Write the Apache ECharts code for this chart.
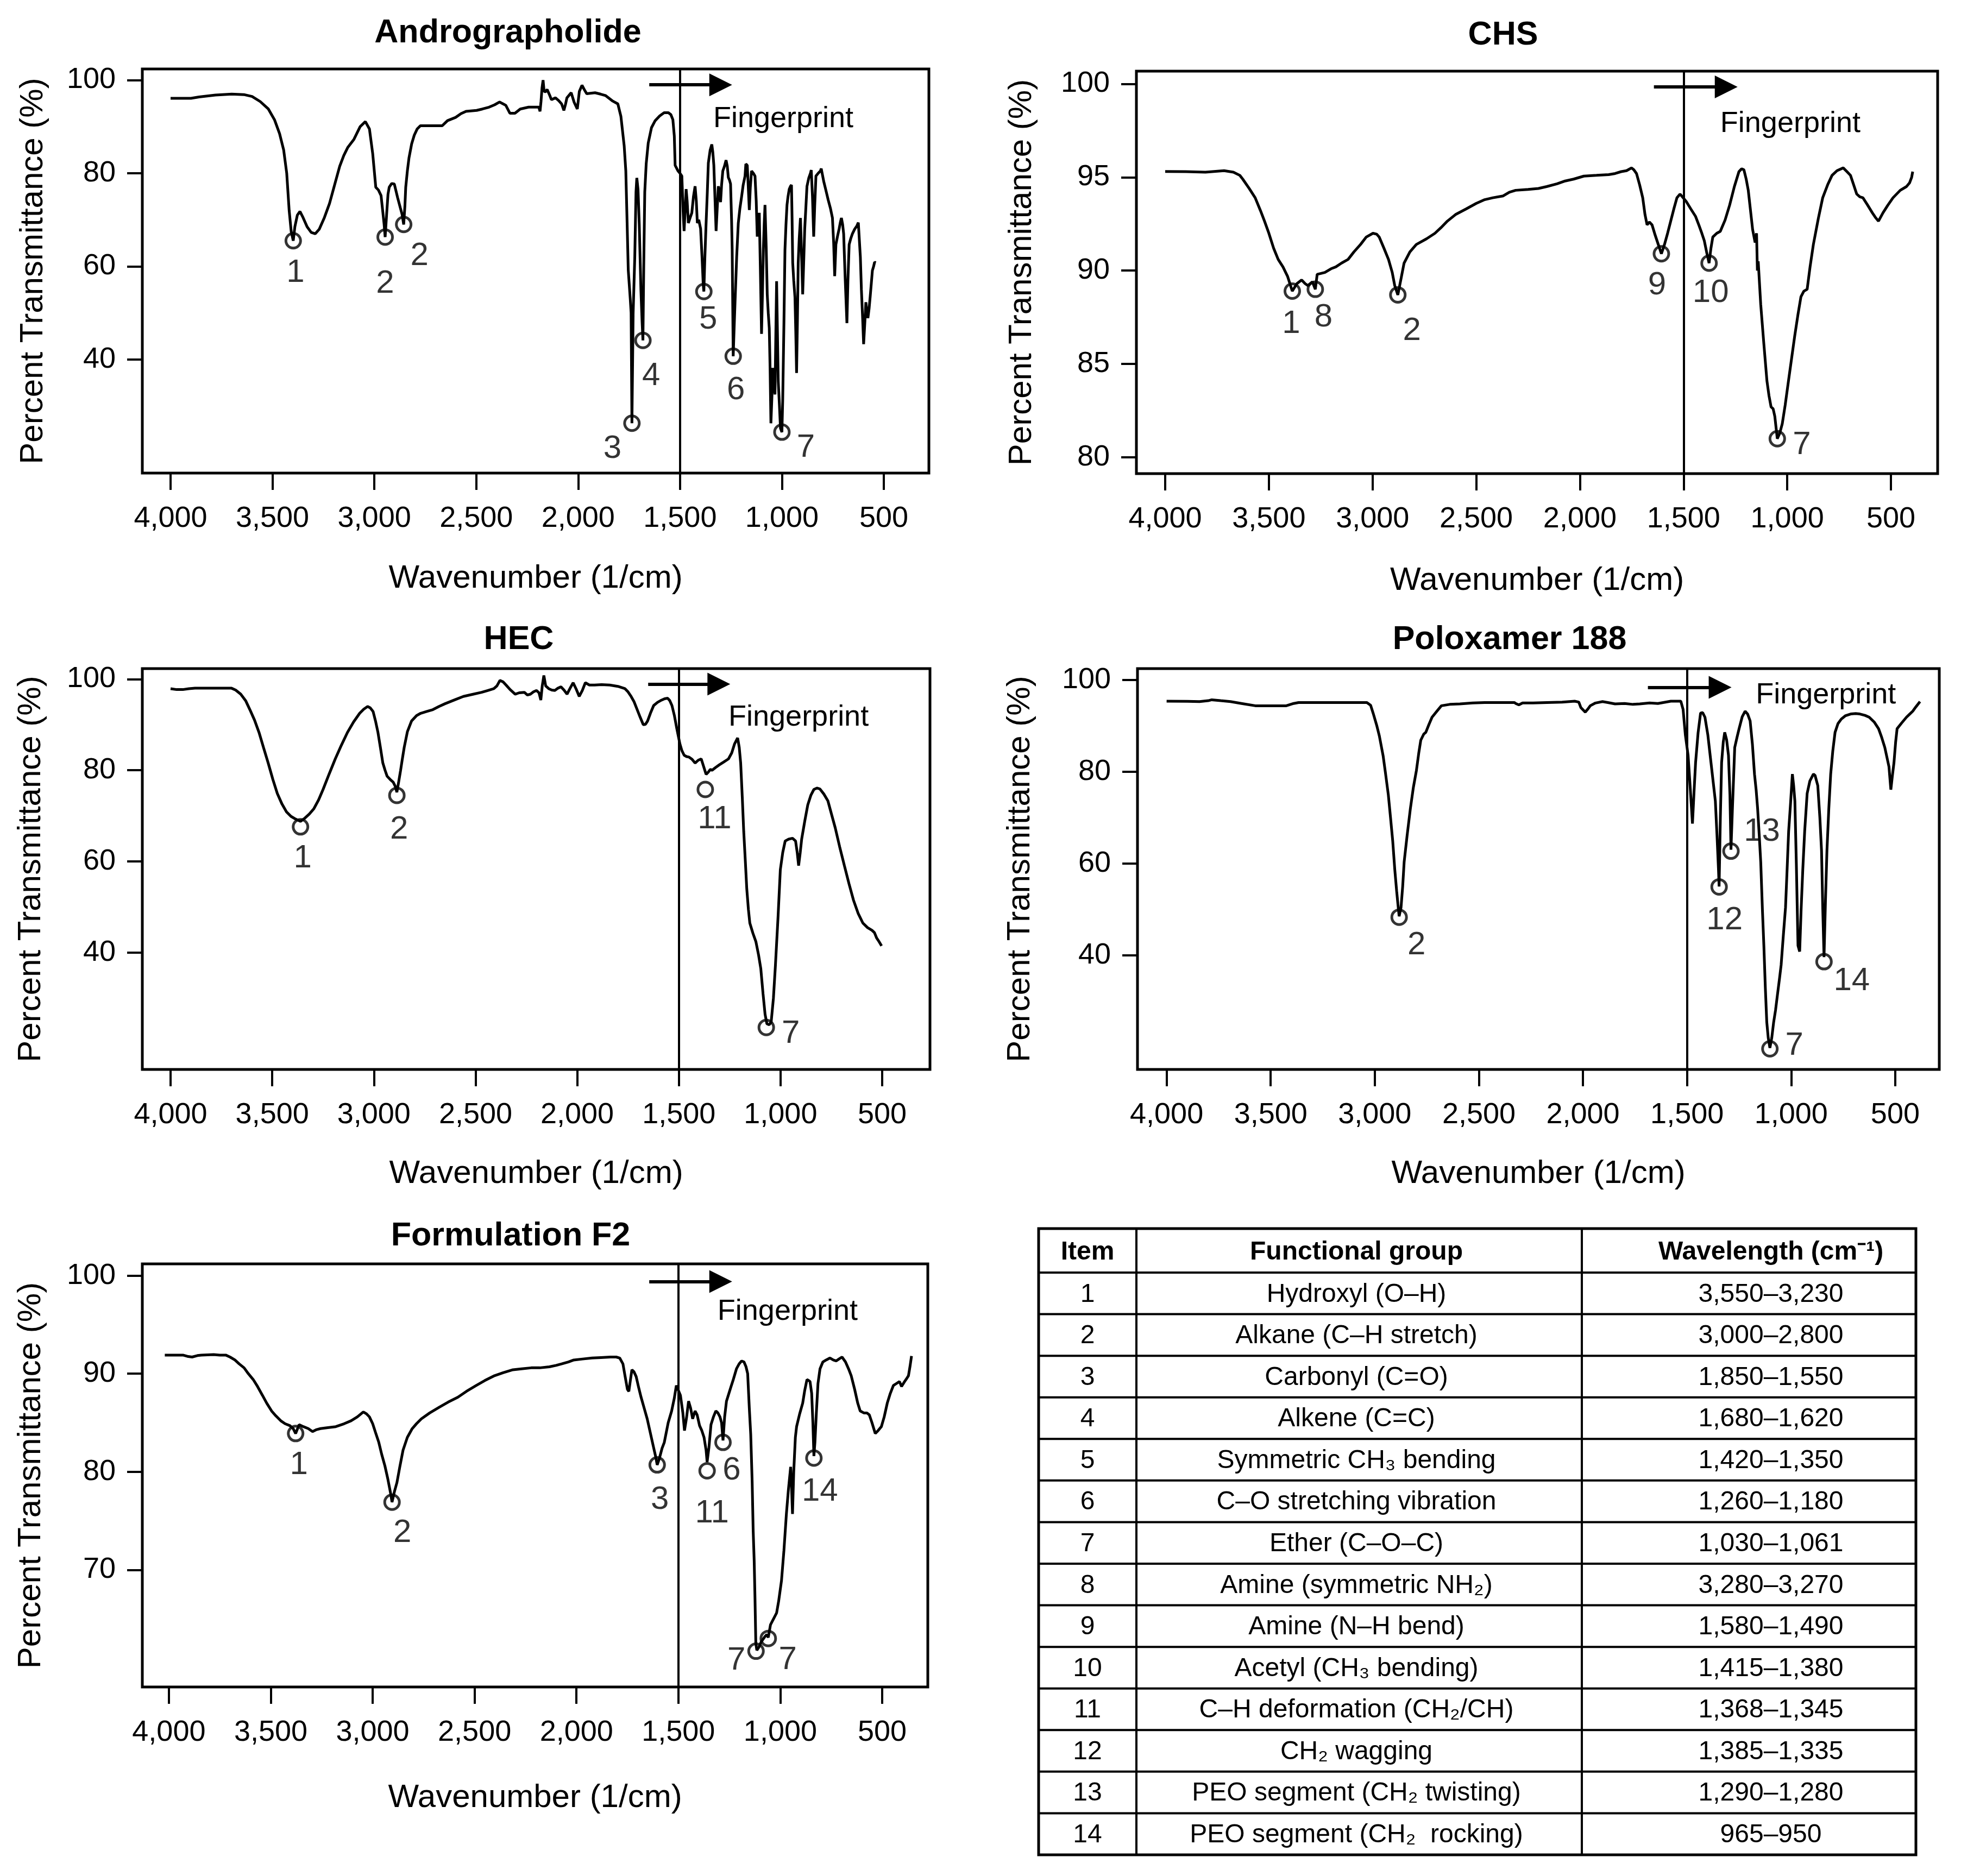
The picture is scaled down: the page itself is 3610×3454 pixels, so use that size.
<!DOCTYPE html>
<html><head><meta charset="utf-8">
<script src="https://cdn.jsdelivr.net/npm/echarts@6/dist/echarts.min.js"></script>
<style>html,body{margin:0;padding:0;background:#fff}#c{width:3610px;height:3454px}</style>
</head><body><div id="c"></div>
<script>
// ---------------- DATA (wavenumber 1/cm, transmittance %) ----------------
const andrographolide = [[4000,96.1],[3900,96.1],[3860,96.4],[3780,96.8],[3700,97.0],[3640,96.9],[3600,96.5],[3560,95.4],[3520,93.8],[3490,91.5],[3465,88.5],[3445,85.0],[3430,80.0],[3418,72.0],[3408,67.5],[3398,65.5],[3390,68.5],[3378,71.0],[3365,71.8],[3350,70.5],[3330,68.5],[3310,67.3],[3290,67.0],[3270,68.0],[3245,70.5],[3220,73.5],[3195,77.5],[3170,81.5],[3150,83.8],[3131,85.5],[3100,87.3],[3070,90.0],[3044,91.1],[3024,89.5],[3008,84.2],[2993,77.0],[2980,76.4],[2967,75.2],[2958,71.5],[2952,69.0],[2947,66.3],[2940,71.0],[2933,75.5],[2927,77.0],[2915,77.8],[2902,77.7],[2886,74.8],[2872,72.5],[2864,71.2],[2856,69.0],[2850,73.0],[2846,77.0],[2838,80.5],[2830,83.3],[2817,86.3],[2804,88.2],[2790,89.5],[2774,90.2],[2720,90.2],[2667,90.2],[2641,91.3],[2601,92.0],[2575,92.8],[2550,93.3],[2498,93.5],[2470,93.8],[2437,94.2],[2410,94.7],[2386,95.3],[2372,95.0],[2355,94.6],[2335,92.9],[2310,92.9],[2284,93.8],[2243,94.2],[2193,94.2],[2187,93.3],[2182,95.5],[2177,98.4],[2172,100.0],[2167,97.6],[2160,97.5],[2152,98.0],[2140,96.8],[2131,95.8],[2111,96.2],[2095,95.6],[2081,94.9],[2070,93.5],[2062,94.8],[2055,96.2],[2034,97.3],[2020,95.3],[2004,93.8],[1994,97.6],[1981,98.9],[1970,98.0],[1958,97.1],[1917,97.3],[1890,97.0],[1866,96.7],[1830,95.5],[1805,94.9],[1790,92.2],[1774,85.9],[1766,80.5],[1760,70.0],[1754,59.2],[1744,52.9],[1740,50.0],[1736,26.3],[1730,50.0],[1722,62.0],[1716,76.0],[1712,79.0],[1706,76.5],[1700,69.0],[1692,55.0],[1686,48.0],[1682,44.1],[1678,60.0],[1673,76.0],[1666,82.0],[1656,86.5],[1640,89.8],[1622,91.3],[1600,92.3],[1578,93.0],[1557,93.0],[1545,92.6],[1535,91.5],[1528,88.0],[1524,81.7],[1510,80.5],[1500,80.0],[1491,79.4],[1485,72.0],[1480,67.6],[1475,72.0],[1470,76.6],[1465,74.0],[1459,69.3],[1450,70.5],[1442,71.5],[1434,75.0],[1426,77.2],[1420,74.0],[1415,69.3],[1408,70.0],[1399,68.1],[1392,62.0],[1386,56.0],[1383,54.6],[1378,62.0],[1372,69.3],[1366,76.0],[1361,82.2],[1352,85.0],[1344,86.2],[1339,84.5],[1334,81.7],[1328,74.0],[1323,67.6],[1318,72.0],[1312,77.2],[1306,76.0],[1301,73.8],[1296,77.5],[1290,80.5],[1282,81.5],[1274,82.8],[1268,81.5],[1263,79.1],[1257,78.5],[1252,77.7],[1247,70.0],[1244,63.6],[1241,50.0],[1239,40.7],[1235,46.0],[1230,52.3],[1222,62.0],[1214,69.3],[1206,72.5],[1198,74.9],[1190,77.5],[1181,79.4],[1177,82.0],[1170,81.7],[1165,77.0],[1160,72.1],[1155,77.0],[1149,80.5],[1140,80.0],[1132,79.4],[1126,74.0],[1121,66.4],[1116,69.0],[1111,71.5],[1106,60.0],[1100,45.5],[1095,55.0],[1091,63.6],[1087,69.0],[1083,73.2],[1077,64.0],[1072,54.0],[1067,50.0],[1062,46.7],[1058,38.0],[1054,26.3],[1049,32.0],[1045,38.2],[1040,35.0],[1034,32.5],[1030,45.0],[1026,56.8],[1022,46.0],[1018,35.3],[1012,30.0],[1007,25.2],[1000,24.4],[996,31.4],[990,48.0],[985,63.6],[980,69.0],[975,73.2],[970,75.0],[964,76.6],[958,77.2],[953,77.5],[950,70.0],[947,60.8],[942,57.0],[936,53.4],[932,46.0],[928,37.1],[924,48.0],[920,60.8],[915,66.0],[909,70.4],[904,63.0],[898,54.0],[893,61.0],[888,68.1],[882,73.0],[877,77.2],[868,79.0],[860,80.0],[856,80.7],[850,75.0],[844,66.4],[839,73.0],[833,79.4],[822,80.0],[811,80.5],[807,81.0],[795,78.3],[785,76.5],[773,74.3],[762,72.5],[752,70.4],[746,65.0],[741,57.9],[735,64.7],[727,66.5],[719,68.1],[713,69.5],[708,70.4],[702,69.0],[697,67.0],[690,58.0],[681,47.8],[676,57.0],[670,64.7],[662,66.0],[654,67.0],[643,68.0],[632,68.7],[625,69.4],[621,69.3],[615,62.0],[610,55.1],[604,49.0],[599,43.3],[593,48.0],[588,52.3],[583,50.5],[578,48.9],[572,51.0],[567,53.4],[561,56.5],[556,59.1],[550,60.0],[545,60.9],[539,60.8]];

const chs = [[4000,95.31],[3900,95.3],[3806,95.27],[3716,95.35],[3671,95.27],[3640,95.1],[3626,94.9],[3595,94.4],[3566,93.9],[3540,93.2],[3521,92.65],[3500,92.0],[3477,91.2],[3455,90.6],[3432,90.2],[3410,89.7],[3387,88.9],[3365,89.3],[3342,89.5],[3325,89.3],[3312,89.2],[3290,89.4],[3276,89.0],[3267,89.8],[3230,89.9],[3200,90.1],[3177,90.2],[3150,90.4],[3118,90.6],[3090,91.0],[3058,91.4],[3030,91.8],[2998,92.0],[2980,91.95],[2968,91.8],[2945,91.2],[2923,90.6],[2905,89.9],[2893,89.2],[2878,88.7],[2862,89.6],[2848,90.4],[2820,91.0],[2789,91.4],[2740,91.7],[2699,92.0],[2670,92.3],[2639,92.65],[2600,93.0],[2549,93.3],[2500,93.6],[2459,93.8],[2420,93.9],[2370,94.0],[2340,94.2],[2310,94.3],[2250,94.35],[2200,94.4],[2160,94.5],[2110,94.65],[2071,94.8],[2030,94.9],[1981,95.06],[1920,95.1],[1861,95.14],[1830,95.2],[1801,95.3],[1775,95.35],[1751,95.5],[1740,95.4],[1727,95.2],[1712,94.6],[1697,93.9],[1686,93.0],[1676,92.45],[1665,92.6],[1652,92.45],[1637,91.9],[1622,91.4],[1607,90.9],[1592,91.4],[1577,92.0],[1562,92.65],[1547,93.3],[1532,93.9],[1517,94.1],[1502,93.9],[1487,93.7],[1465,93.3],[1442,92.9],[1425,92.4],[1412,92.0],[1400,91.6],[1389,91.0],[1377,90.4],[1368,91.2],[1359,91.8],[1340,92.0],[1323,92.1],[1300,92.7],[1278,93.5],[1255,94.5],[1233,95.3],[1220,95.45],[1209,95.4],[1198,94.9],[1188,94.3],[1178,93.3],[1167,92.2],[1155,91.5],[1148,92.0],[1144,90.0],[1140,90.5],[1128,88.2],[1113,86.1],[1098,84.1],[1088,83.3],[1078,82.7],[1068,82.6],[1060,82.2],[1048,81.0],[1036,81.3],[1024,81.8],[1010,82.8],[994,84.1],[979,85.3],[964,86.5],[949,87.6],[934,88.6],[920,88.9],[904,89.0],[890,90.2],[874,91.4],[850,92.8],[829,93.9],[805,94.6],[784,95.1],[760,95.35],[730,95.5],[712,95.3],[695,95.1],[680,94.6],[665,94.1],[650,93.95],[635,93.9],[612,93.5],[590,93.1],[575,92.85],[560,92.65],[538,93.1],[515,93.5],[490,93.9],[455,94.3],[425,94.5],[410,94.7],[400,95.0],[395,95.3]];

const hec = [[4000,97.9],[3970,97.7],[3940,97.7],[3910,97.9],[3880,98.0],[3800,98.0],[3700,98.0],[3680,97.6],[3655,96.7],[3630,95.2],[3610,93.3],[3587,91.0],[3565,88.3],[3543,85.0],[3520,81.6],[3497,78.0],[3475,74.9],[3452,72.6],[3430,70.9],[3408,69.9],[3385,69.3],[3361,68.8],[3340,69.5],[3318,70.4],[3295,71.6],[3272,73.5],[3250,75.8],[3220,79.2],[3190,82.5],[3160,85.5],[3130,88.3],[3100,90.6],[3070,92.5],[3050,93.4],[3031,94.0],[3018,93.7],[3004,92.9],[2992,90.8],[2980,88.3],[2968,85.0],[2956,81.6],[2945,80.0],[2935,78.7],[2920,78.0],[2905,77.4],[2895,76.5],[2887,75.2],[2878,77.5],[2869,79.9],[2860,82.5],[2851,85.0],[2835,88.5],[2815,90.8],[2790,92.0],[2770,92.5],[2740,92.9],[2710,93.3],[2680,94.0],[2650,94.6],[2600,95.5],[2560,96.2],[2510,96.7],[2470,97.1],[2440,97.5],[2410,97.9],[2395,98.5],[2380,99.7],[2365,99.4],[2350,98.7],[2330,97.7],[2305,96.7],[2285,97.0],[2260,97.1],[2245,96.5],[2230,96.7],[2215,97.2],[2200,97.5],[2188,97.0],[2179,95.4],[2172,98.5],[2164,100.8],[2155,98.5],[2140,97.9],[2125,97.6],[2110,97.5],[2095,98.0],[2080,98.3],[2065,97.6],[2050,96.7],[2035,98.0],[2020,99.2],[2005,97.8],[1990,96.2],[1975,97.5],[1960,99.2],[1940,98.7],[1915,98.7],[1880,98.8],[1840,98.7],[1800,98.4],[1765,97.9],[1750,97.2],[1735,96.2],[1720,95.0],[1705,93.3],[1690,91.6],[1675,90.0],[1664,90.1],[1654,90.8],[1640,92.5],[1624,94.2],[1605,94.9],[1585,95.4],[1570,95.7],[1555,95.8],[1545,95.3],[1534,94.2],[1522,92.0],[1510,89.1],[1495,85.8],[1485,84.3],[1474,83.3],[1462,83.0],[1450,82.9],[1435,82.4],[1420,81.6],[1405,82.2],[1390,82.5],[1378,80.8],[1366,79.1],[1355,79.6],[1345,80.2],[1337,80.0],[1320,80.6],[1301,81.2],[1280,81.8],[1256,82.5],[1240,83.8],[1226,85.8],[1211,87.1],[1203,85.0],[1196,81.6],[1188,74.0],[1181,66.6],[1173,60.0],[1166,54.0],[1158,49.5],[1151,46.5],[1136,44.3],[1121,42.4],[1108,39.5],[1097,36.5],[1086,31.0],[1076,26.5],[1067,24.4],[1056,24.2],[1046,24.8],[1035,30.0],[1025,37.3],[1012,48.0],[1001,58.2],[989,62.0],[977,64.5],[960,64.9],[941,65.1],[926,64.5],[918,62.0],[911,59.1],[903,62.0],[896,64.9],[881,68.8],[866,72.4],[851,74.5],[836,75.8],[821,76.1],[806,75.9],[787,74.8],[767,73.3],[750,70.5],[731,67.4],[709,63.2],[686,59.1],[663,55.1],[641,51.5],[618,48.6],[595,46.5],[572,45.5],[550,44.9],[538,44.4],[527,43.2],[515,42.4],[503,41.5]];

const poloxamer188 = [[4000,95.4],[3900,95.35],[3842,95.3],[3800,95.5],[3783,95.7],[3740,95.5],[3693,95.3],[3640,94.9],[3574,94.4],[3500,94.4],[3425,94.4],[3390,94.9],[3366,95.1],[3300,95.1],[3187,95.1],[3100,95.1],[3038,95.1],[3020,94.5],[3008,92.8],[2990,90.0],[2978,87.8],[2960,83.5],[2948,79.5],[2935,75.0],[2925,70.3],[2914,65.0],[2904,58.7],[2895,54.0],[2889,51.2],[2883,48.5],[2874,50.4],[2866,55.0],[2859,60.3],[2845,66.0],[2829,72.0],[2815,76.5],[2800,80.3],[2789,84.0],[2779,86.9],[2765,88.2],[2755,88.6],[2740,90.3],[2725,91.9],[2700,93.3],[2680,94.4],[2640,94.7],[2591,94.8],[2530,95.0],[2472,95.1],[2400,95.1],[2330,95.1],[2323,94.9],[2308,94.6],[2290,95.0],[2240,95.0],[2174,95.1],[2100,95.2],[2040,95.4],[2020,95.2],[2010,94.0],[1995,93.3],[1989,93.0],[1978,93.6],[1965,94.4],[1940,95.0],[1906,95.3],[1880,95.1],[1846,94.8],[1800,94.9],[1760,94.7],[1727,94.8],[1680,95.0],[1640,94.9],[1578,95.4],[1545,95.4],[1530,95.4],[1519,93.6],[1508,88.0],[1495,83.6],[1484,76.0],[1474,68.7],[1466,76.0],[1459,82.0],[1447,88.5],[1435,92.8],[1425,92.9],[1414,91.9],[1400,88.0],[1385,82.0],[1375,78.0],[1364,73.6],[1356,66.0],[1349,58.7],[1346,55.0],[1340,70.0],[1334,82.0],[1326,86.5],[1319,88.6],[1310,87.0],[1301,83.6],[1294,75.0],[1289,63.0],[1282,72.0],[1271,85.3],[1260,87.5],[1250,89.4],[1235,92.0],[1221,93.2],[1209,92.6],[1197,91.1],[1186,86.0],[1176,79.5],[1168,76.0],[1161,72.0],[1153,66.0],[1146,60.3],[1138,50.0],[1131,42.1],[1124,33.0],[1117,25.4],[1110,22.0],[1102,19.8],[1093,22.0],[1084,25.4],[1075,28.0],[1066,31.3],[1057,34.5],[1048,37.9],[1038,44.0],[1027,50.4],[1020,58.0],[1012,67.0],[1003,73.0],[994,79.5],[988,77.0],[982,73.6],[975,60.0],[967,42.1],[959,40.8],[952,50.0],[944,58.7],[935,67.0],[923,75.3],[910,78.0],[893,79.5],[885,79.2],[872,77.0],[862,70.0],[854,62.8],[848,50.0],[842,39.6],[835,52.0],[828,62.8],[819,72.0],[810,79.5],[800,84.5],[789,88.6],[775,90.5],[759,91.5],[740,92.2],[714,92.6],[690,92.7],[670,92.6],[645,92.3],[625,91.9],[600,90.8],[580,89.4],[565,87.5],[550,85.3],[540,83.2],[530,81.1],[521,76.1],[514,79.0],[506,82.0],[498,86.5],[491,89.4],[470,90.6],[446,91.9],[430,92.6],[416,93.2],[400,94.2],[381,95.3]];

const formulationF2 = [[4020,91.9],[3980,91.9],[3931,91.9],[3905,91.75],[3886,91.7],[3860,91.85],[3841,91.9],[3780,91.95],[3750,91.9],[3721,91.9],[3700,91.7],[3676,91.4],[3655,91.0],[3631,90.6],[3610,90.0],[3586,89.4],[3565,88.7],[3541,87.8],[3520,87.0],[3496,86.2],[3475,85.7],[3451,85.2],[3430,84.9],[3406,84.7],[3390,84.4],[3378,83.9],[3361,84.8],[3340,84.6],[3316,84.4],[3295,84.1],[3275,84.3],[3256,84.4],[3220,84.5],[3181,84.6],[3140,84.9],[3106,85.2],[3075,85.6],[3046,86.1],[3030,85.9],[3016,85.6],[3000,84.9],[2986,84.0],[2970,83.0],[2956,81.8],[2940,80.6],[2926,79.3],[2912,77.8],[2905,76.9],[2893,78.0],[2881,78.9],[2866,80.6],[2851,82.2],[2830,83.5],[2806,84.4],[2785,84.9],[2761,85.4],[2720,86.0],[2672,86.6],[2630,87.1],[2582,87.6],[2540,88.2],[2492,88.8],[2450,89.3],[2402,89.8],[2360,90.1],[2312,90.4],[2270,90.5],[2222,90.6],[2180,90.6],[2133,90.7],[2100,90.85],[2073,91.0],[2040,91.2],[2013,91.4],[1970,91.5],[1923,91.6],[1880,91.65],[1833,91.7],[1805,91.7],[1788,91.6],[1772,91.0],[1762,89.8],[1750,88.4],[1743,88.2],[1735,89.4],[1728,90.4],[1718,90.2],[1707,89.7],[1695,88.6],[1683,87.6],[1668,86.5],[1653,85.4],[1638,84.0],[1623,82.6],[1611,81.5],[1604,80.7],[1594,81.3],[1580,82.4],[1569,83.0],[1550,85.0],[1533,86.2],[1520,87.5],[1510,88.8],[1500,88.3],[1490,87.8],[1478,86.0],[1470,84.2],[1460,85.5],[1450,87.2],[1440,86.5],[1430,85.4],[1418,86.2],[1408,85.8],[1396,84.7],[1385,84.2],[1374,83.5],[1364,82.2],[1359,81.0],[1350,82.5],[1340,84.8],[1328,85.6],[1316,86.2],[1306,86.0],[1296,85.6],[1288,85.0],[1281,83.2],[1273,85.6],[1264,87.2],[1255,87.8],[1243,88.6],[1232,89.3],[1215,90.5],[1202,91.0],[1190,91.3],[1178,91.2],[1168,90.7],[1160,90.0],[1152,86.5],[1145,83.8],[1138,79.0],[1133,74.0],[1128,70.9],[1124,67.0],[1120,62.5],[1115,61.8],[1105,62.1],[1095,62.6],[1085,62.9],[1075,63.2],[1066,63.4],[1059,63.1],[1048,64.4],[1038,64.8],[1028,65.2],[1018,65.6],[1008,66.8],[994,68.9],[982,72.0],[970,75.7],[960,78.2],[949,80.5],[944,78.0],[940,75.7],[934,80.0],[926,83.5],[920,84.6],[905,85.9],[890,87.0],[880,88.3],[869,89.4],[860,89.3],[854,89.2],[846,88.0],[840,85.0],[835,81.6],[830,83.0],[823,86.0],[815,89.0],[805,90.5],[791,91.2],[775,91.4],[756,91.6],[740,91.4],[726,91.3],[712,91.5],[697,91.7],[680,91.2],[665,90.5],[652,89.8],[635,88.4],[620,87.0],[608,86.2],[590,86.0],[575,86.0],[563,85.8],[550,85.0],[534,83.9],[520,84.2],[504,84.6],[490,85.6],[475,87.0],[460,88.0],[445,88.8],[430,89.0],[415,89.2],[405,88.7],[400,88.6],[390,89.2],[380,89.5],[371,89.8],[363,90.8],[356,91.8]];

// marked peaks: [wavenumber, transmittance, item number]
const andrographolidePeaks = [[3398,65.5,'1'],[2947,66.3,'2'],[2856,69.0,'2'],[1736,26.3,'3'],[1682,44.1,'4'],[1383,54.6,'5'],[1239,40.7,'6'],[1000,24.4,'7']];
const chsPeaks = [[3387,88.9,'1'],[3276,89.0,'8'],[2878,88.7,'2'],[1607,90.9,'9'],[1377,90.4,'10'],[1048,81.0,'7']];
const hecPeaks = [[3361,67.6,'1'],[2887,74.5,'2'],[1370,75.8,'11'],[1070,23.6,'7']];
const poloxamer188Peaks = [[2883,48.3,'2'],[1346,54.9,'12'],[1289,62.7,'13'],[1102,19.6,'7'],[842,38.6,'14']];
const formulationF2Peaks = [[3378,83.9,'1'],[2905,76.9,'2'],[1604,80.7,'3'],[1359,80.1,'11'],[1281,83.0,'6'],[1119,61.7,'7'],[1059,63.0,'7'],[835,81.4,'14']];

// tick labels
const xTickValues = [4000,3500,3000,2500,2000,1500,1000,500];
const yTicksWide = [40,60,80,100];
const yTicksCHS = [80,85,90,95,100];
const yTicksF2 = [70,80,90,100];
const fingerprintBoundary = 1500;

// table
const tableHeader = ['Item','Functional group','Wavelength (cm\u207B\u00B9)'];
const tableItems = ['1','2','3','4','5','6','7','8','9','10','11','12','13','14'];
const tableGroups = ['Hydroxyl (O\u2013H)','Alkane (C\u2013H stretch)','Carbonyl (C=O)','Alkene (C=C)','Symmetric CH\u2083 bending','C\u2013O stretching vibration','Ether (C\u2013O\u2013C)','Amine (symmetric NH\u2082)','Amine (N\u2013H bend)','Acetyl (CH\u2083 bending)','C\u2013H deformation (CH\u2082/CH)','CH\u2082 wagging','PEO segment (CH\u2082 twisting)','PEO segment (CH\u2082  rocking)'];
const tableWavelengths = ['3,550\u20133,230','3,000\u20132,800','1,850\u20131,550','1,680\u20131,620','1,420\u20131,350','1,260\u20131,180','1,030\u20131,061','3,280\u20133,270','1,580\u20131,490','1,415\u20131,380','1,368\u20131,345','1,385\u20131,335','1,290\u20131,280','965\u2013950'];

// ---------------- LAYOUT / STYLE ----------------
function fontAvailable(name){
  const c=document.createElement('canvas').getContext('2d');
  const s='4,000 Wavenumber 1234567890 Hydroxyl';
  let diff=false;
  ['monospace','serif'].forEach(b=>{
    c.font='80px '+b; const a=c.measureText(s).width;
    c.font='80px "'+name+'", '+b; const w=c.measureText(s).width;
    if (Math.abs(a-w)>0.5) diff=true;
  });
  return diff;
}
const SANS = '"Liberation Sans", Arial, Helvetica, sans-serif';
const HAS_NARROW = fontAvailable('Liberation Sans Narrow');
const NUM_FONT = HAS_NARROW ? '"Liberation Sans Narrow", "Liberation Sans", Arial, sans-serif' : SANS;
const TICK_SIZE = HAS_NARROW ? 60 : 54;
const PEAK_SIZE = HAS_NARROW ? 64 : 60;
const BODY_SIZE = HAS_NARROW ? 56 : 48;

const panels = [
  {title:'Andrographolide', titlePos:[935,61], data:andrographolide, peaks:andrographolidePeaks,
   labelOffsets:[[4,59],[0,86],[29,58],[-36,47],[15,66],[8,52],[5,63],[44,29]],
   grid:{left:262, top:127, width:1448, height:744}, xr:[278.7,4138.6], yr:[15.6,102.4], yTicks:yTicksWide,
   arrow:[1651,1247,99.0], fp:[1337,91.6], xNameY:1066, yNameX:60},
  {title:'CHS', titlePos:[2767,65], data:chs, peaks:chsPeaks,
   labelOffsets:[[-2,60],[15,52],[26,67],[-8,58],[3,55],[45,12]],
   grid:{left:2092, top:131, width:1475, height:741}, xr:[274.7,4138.8], yr:[79.13,100.68], yTicks:yTicksCHS,
   arrow:[1643,1242,99.84], fp:[1323,97.86], xNameY:1070, yNameX:1880},
  {title:'HEC', titlePos:[955,1178], data:hec, peaks:hecPeaks,
   labelOffsets:[[4,58],[4,63],[17,55],[45,12]],
   grid:{left:262, top:1231, width:1450, height:738}, xr:[264.9,4139], yr:[14.4,102.3], yTicks:yTicksWide,
   arrow:[1651,1250,98.9], fp:[1256,91.6], xNameY:2162, yNameX:56},
  {title:'Poloxamer 188', titlePos:[2779,1178], data:poloxamer188, peaks:poloxamer188Peaks,
   labelOffsets:[[32,52],[10,62],[57,-36],[45,-6],[51,36]],
   grid:{left:2094, top:1231, width:1476, height:738}, xr:[288.4,4139.9], yr:[15.1,102.5], yTicks:yTicksWide,
   arrow:[1688,1289,98.4], fp:[1170,96.7], xNameY:2162, yNameX:1877},
  {title:'Formulation F2', titlePos:[940,2276], data:formulationF2, peaks:formulationF2Peaks,
   labelOffsets:[[6,58],[19,57],[5,64],[9,79],[16,52],[-36,17],[36,40],[11,62]],
   grid:{left:262, top:2327, width:1446, height:779}, xr:[276.1,4130.3], yr:[58.05,101.2], yTicks:yTicksF2,
   arrow:[1643,1239,99.4], fp:[1308,96.3], xNameY:3311, yNameX:56}
];

const fmtThousands = v => String(Math.round(v)).replace(/\B(?=(\d{3})+(?!\d))/g, ',');

const grids=[], xAxes=[], yAxes=[], series=[], graphics=[];
panels.forEach((p,i)=>{
  const ppu = p.grid.width/(p.xr[1]-p.xr[0]);
  const arrowEnd = p.arrow[1] + 20/ppu;
  grids.push(Object.assign({show:true, borderColor:'#000', borderWidth:5, backgroundColor:'rgba(0,0,0,0)', containLabel:false, outerBoundsMode:'none'}, p.grid));
  xAxes.push({gridIndex:i, type:'value', inverse:true, min:p.xr[0], max:p.xr[1],
    axisLine:{show:false}, splitLine:{show:false},
    axisTick:{show:true, inside:false, length:31, lineStyle:{color:'#000', width:4}, customValues:xTickValues},
    axisLabel:{show:true, customValues:xTickValues, formatter:fmtThousands, color:'#000', fontSize:TICK_SIZE, fontFamily:NUM_FONT, margin:84-TICK_SIZE/2, hideOverlap:false},
    name:'Wavenumber (1/cm)', nameLocation:'middle', nameGap:p.xNameY-(p.grid.top+p.grid.height)-31, nameMoveOverlap:false,
    nameTextStyle:{color:'#000', fontSize:60, fontFamily:SANS}});
  yAxes.push({gridIndex:i, type:'value', min:p.yr[0], max:p.yr[1],
    axisLine:{show:false}, splitLine:{show:false},
    axisTick:{show:true, inside:false, length:28, lineStyle:{color:'#000', width:4}, customValues:p.yTicks},
    axisLabel:{show:true, customValues:p.yTicks, color:'#000', fontSize:TICK_SIZE, fontFamily:NUM_FONT, margin:49, hideOverlap:false},
    name:'Percent Transmittance (%)', nameLocation:'middle', nameRotate:90, nameGap:p.grid.left-p.yNameX-31, nameMoveOverlap:false,
    nameTextStyle:{color:'#000', fontSize:60, fontFamily:SANS}});
  series.push({type:'line', name:p.title, xAxisIndex:i, yAxisIndex:i, data:p.data, showSymbol:false, symbol:'none',
    lineStyle:{color:'#000', width:5}, itemStyle:{color:'#000'}, silent:true, animation:false, z:3,
    markLine:{silent:true, animation:false, symbol:['none','none'], label:{show:false},
      lineStyle:{color:'#000', width:4, type:'solid'}, emphasis:{disabled:true},
      data:[
        {xAxis:fingerprintBoundary},
        [{coord:[p.arrow[0],p.arrow[2]], symbol:'none', lineStyle:{color:'#000', width:6, type:'solid'}},
         {coord:[arrowEnd,p.arrow[2]], symbol:'triangle', symbolSize:42, lineStyle:{color:'#000', width:6, type:'solid'}}]
      ]},
    markPoint:{silent:true, animation:false, symbol:'circle', symbolSize:0, itemStyle:{color:'rgba(0,0,0,0)'},
      label:{show:true, position:'right', distance:0, formatter:'Fingerprint', color:'#000', fontSize:54, fontFamily:SANS},
      data:[{coord:p.fp, value:0}]}
  });
  series.push({type:'scatter', name:p.title+' peaks', xAxisIndex:i, yAxisIndex:i, silent:true, animation:false, z:4,
    data:p.peaks.map((pk,k)=>({name:pk[2], value:[pk[0],pk[1]], label:{offset:p.labelOffsets[k]}})),
    symbol:'circle', symbolSize:27, itemStyle:{color:'rgba(0,0,0,0)', borderColor:'#000', borderWidth:5},
    label:{show:true, position:'inside', formatter:'{b}', color:'#000', fontSize:PEAK_SIZE, fontFamily:NUM_FONT, textBorderWidth:0, textBorderColor:'transparent'}});
  graphics.push({type:'text', x:p.titlePos[0], y:p.titlePos[1], silent:true,
    style:{text:p.title, fontSize:61, fontWeight:'bold', fontFamily:SANS, fill:'#000', align:'center', verticalAlign:'middle', textAlign:'center', textVerticalAlign:'middle'}});
});

// table
const T = {left:1912, top:2262, right:3527, bottom:3415, headerBottom:2343, col1:2092, col2:2912, cx:[2002,2497,3260]};
const rowH = (T.bottom-T.headerBottom)/tableItems.length;
graphics.push({type:'rect', silent:true, shape:{x:T.left, y:T.top, width:T.right-T.left, height:T.bottom-T.top}, style:{fill:'none', stroke:'#000', lineWidth:5}});
[T.col1, T.col2].forEach(x=>graphics.push({type:'line', silent:true, shape:{x1:x, y1:T.top, x2:x, y2:T.bottom}, style:{stroke:'#000', lineWidth:4}}));
for (let r=0; r<tableItems.length; r++){
  const y = T.headerBottom + r*rowH;
  graphics.push({type:'line', silent:true, shape:{x1:T.left, y1:y, x2:T.right, y2:y}, style:{stroke:'#000', lineWidth:4}});
}
tableHeader.forEach((h,c)=>graphics.push({type:'text', silent:true, x:T.cx[c], y:(T.top+T.headerBottom)/2+3,
  style:{text:h, fontSize:48, fontWeight:'bold', fontFamily:SANS, fill:'#000', align:'center', verticalAlign:'middle', textAlign:'center', textVerticalAlign:'middle'}}));
tableItems.forEach((it,r)=>{
  const y = T.headerBottom + (r+0.5)*rowH + 2;
  [it, tableGroups[r], tableWavelengths[r]].forEach((txt,c)=>graphics.push({type:'text', silent:true, x:T.cx[c], y:y,
    style:{text:txt, fontSize:BODY_SIZE, fontFamily:NUM_FONT, fill:'#000', align:'center', verticalAlign:'middle', textAlign:'center', textVerticalAlign:'middle'}}));
});

const chart = echarts.init(document.getElementById('c'), null, {renderer:'canvas'});
chart.setOption({
  backgroundColor:'#fff', animation:false,
  grid:grids, xAxis:xAxes, yAxis:yAxes, series:series, graphic:{elements:graphics}
});
</script>
</body></html>
